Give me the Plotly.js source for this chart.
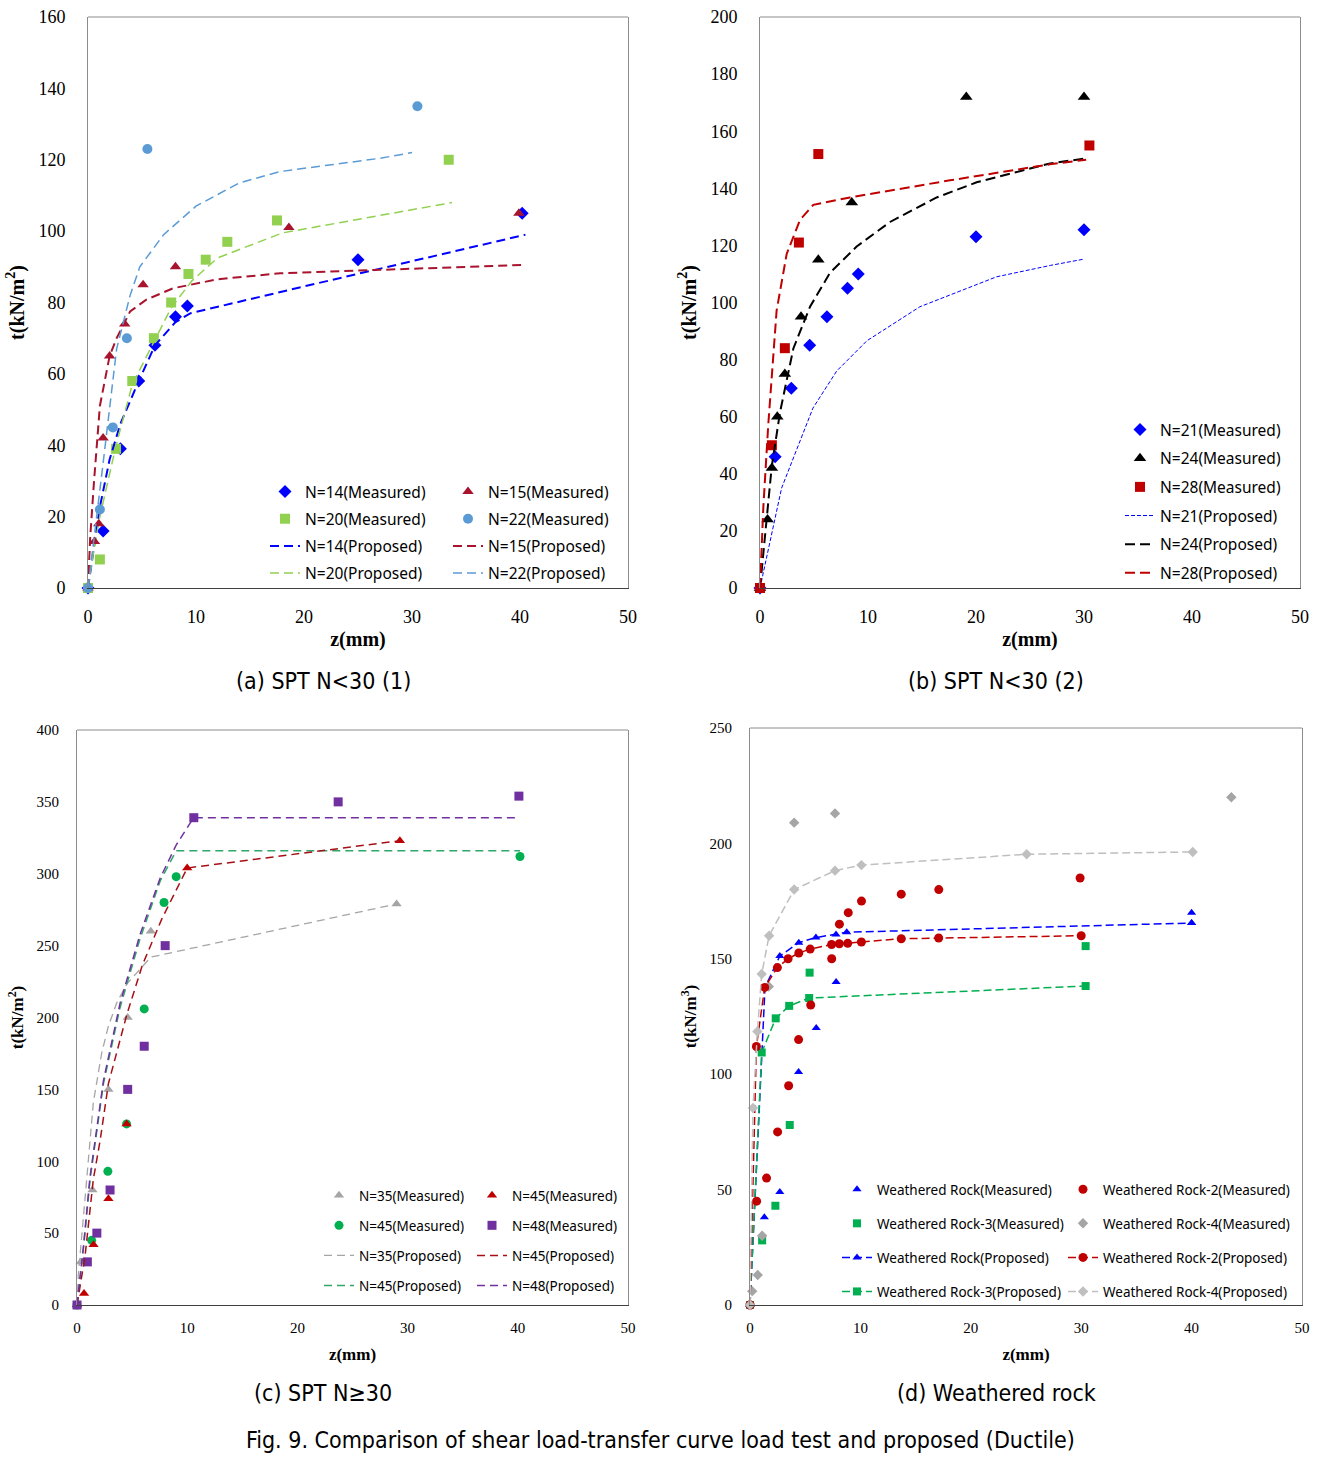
<!DOCTYPE html>
<html>
<head>
<meta charset="utf-8">
<script src="https://cdn.plot.ly/plotly-3.0.1.min.js"></script>
<style>html,body{margin:0;padding:0;background:#fff;}#chart{width:1328px;height:1458px;}</style>
</head>
<body>
<div id="chart"></div>
<script>
// ---------- Panel (a): SPT N<30 (1) ----------
const a14_mx = [0, 1.4, 3.0, 4.7, 6.2, 8.1, 9.2, 25.0, 40.2];
const a14_my = [0, 16, 39, 58, 68, 76, 79, 92, 105];
const a15_mx = [0, 0.6, 1.0, 1.4, 2.0, 3.4, 5.1, 8.1, 18.6, 39.9];
const a15_my = [0, 13, 18, 42, 65, 74, 85, 90, 101, 105];
const a20_mx = [0, 1.1, 2.6, 4.1, 6.1, 7.7, 9.3, 10.9, 12.9, 17.5, 33.4];
const a20_my = [0, 8, 39, 58, 70, 80, 88, 92, 97, 103, 120];
const a22_mx = [0, 1.1, 2.3, 3.6, 5.5, 30.5];
const a22_my = [0, 22, 45, 70, 123, 135];
const a14_px = [0, 0.5, 1.1, 2.0, 3.0, 4.7, 6.2, 8.1, 9.5, 20, 40.5];
const a14_py = [0, 10, 22.7, 36, 46, 58, 68, 74.5, 77, 84.5, 99];
const a15_px = [0, 0.2, 0.56, 1.1, 2.0, 2.65, 3.9, 5.4, 7.9, 12, 17.8, 40.1];
const a15_py = [0, 14, 30, 51, 65, 70, 77.5, 80.8, 84, 86.5, 88.2, 90.5];
const a20_px = [0, 0.5, 1.1, 2.6, 4.1, 6.1, 7.7, 9.6, 12, 18, 33.7];
const a20_py = [0, 10, 20, 40, 57, 69, 78.5, 86, 92.5, 99.5, 108];
const a22_px = [0, 0.5, 1.4, 2.65, 3.9, 4.8, 7.0, 10.0, 14.0, 17.8, 27.0, 30.0];
const a22_py = [0, 12, 35, 67, 82, 90, 99, 107, 113.5, 116.7, 120.4, 122];

// ---------- Panel (b): SPT N<30 (2) ----------
const b21_mx = [0, 1.4, 2.9, 4.6, 6.2, 8.1, 9.1, 20.0, 30.0];
const b21_my = [0, 46, 70, 85, 95, 105, 110, 123, 125.5];
const b24_mx = [0, 0.7, 1.1, 1.6, 2.3, 3.8, 5.4, 8.5, 19.1, 30.0];
const b24_my = [0, 24, 42, 60, 75, 95, 115, 135, 172, 172];
const b28_mx = [0, 1.1, 2.3, 3.6, 5.4, 30.5];
const b28_my = [0, 50, 84, 121, 152, 155];
const b21_px = [0, 2.0, 4.9, 7.1, 9.9, 14.8, 21.9, 26.9, 30];
const b21_py = [0, 35, 63, 76, 86.6, 98.5, 109, 113, 115.2];
const b24_px = [0, 0.46, 1.08, 1.85, 3.09, 4.63, 6.48, 8.95, 12.04, 16.36, 20.06, 26.85, 30.2];
const b24_py = [0, 17.8, 42.3, 61.5, 83.9, 98.5, 110.4, 119.6, 128.2, 136.8, 142.1, 148.7, 150.5];
const b28_px = [0, 0.31, 0.77, 1.54, 2.47, 3.7, 4.94, 8.33, 17.6, 26.85, 30.2];
const b28_py = [0, 28.4, 57.5, 97.2, 117, 128.9, 134.2, 136.8, 142.8, 148.4, 150];

// ---------- Panel (c): SPT N>=30 ----------
const c35_mx = [0, 0.33, 1.4, 2.85, 4.6, 6.7, 29.0];
const c35_my = [0, 30, 80, 150, 200, 260, 279];
const c45r_mx = [0, 0.64, 1.5, 2.85, 4.5, 10.0, 29.3];
const c45r_my = [0, 8, 42, 74, 126, 304, 323];
const c45g_mx = [0, 1.33, 2.8, 4.5, 6.1, 7.9, 9.0, 40.2];
const c45g_my = [0, 45, 93, 126, 206, 280, 298, 312];
const c48_mx = [0, 0.94, 1.8, 3.0, 4.6, 6.1, 8.0, 10.6, 23.7, 40.1];
const c48_my = [0, 30, 50, 80, 150, 180, 250, 339, 350, 354];
const c35_px = [0, 0.12, 0.88, 1.48, 2.24, 2.85, 3.6, 4.52, 6.7, 29.0];
const c35_py = [0, 20.8, 87.4, 140.7, 175.3, 194, 210, 223.3, 242, 279];
const c45r_px = [0, 0.73, 1.48, 2.09, 2.85, 4.52, 5.94, 7.7, 10.0, 29.3];
const c45r_py = [0, 34, 87.4, 114, 154, 202, 236.6, 268.6, 304, 323];
const c45g_px = [0, 0.6, 1.18, 2.4, 3.91, 5.73, 7.55, 9.0, 40.2];
const c45g_py = [0, 40, 87, 154, 207, 255, 295, 316, 316];
const c48_px = [0, 0.6, 1.18, 2.4, 3.91, 5.73, 7.55, 9.0, 10.58, 40.1];
const c48_py = [0, 42, 89, 156, 210, 258, 297, 320, 339, 339];

// ---------- Panel (d): Weathered rock ----------
const dWR_mx = [0, 1.3, 2.7, 4.4, 6.0, 7.8, 40.0, 40.0];
const dWR_my = [0, 38, 49, 101, 120, 140, 170, 165.5];
const dWR2_mx = [0, 0.6, 1.5, 2.5, 3.5, 4.4, 5.5, 7.4, 8.1, 8.9, 10.1, 13.7, 17.1, 29.9];
const dWR2_my = [0, 45, 55, 75, 95, 115, 130, 150, 165, 170, 175, 178, 180, 185];
const dWR3_mx = [0, 1.1, 2.3, 3.6, 5.4, 30.4];
const dWR3_my = [0, 28, 43, 78, 144, 155.5];
const dWR4_mx = [0, 0.2, 0.7, 1.1, 1.7, 4.0, 7.7, 43.6];
const dWR4_my = [0, 6, 13, 30, 138, 209, 213, 220];
const dWR_px = [0, 1.36, 2.7, 4.42, 5.97, 7.79, 8.76, 40.0];
const dWR_py = [0, 137.6, 151.2, 157, 159.2, 160.5, 161.5, 165.5];
const dWR2_px = [0, 0.58, 1.33, 2.48, 3.45, 4.42, 5.45, 7.39, 8.09, 8.85, 10.09, 13.7, 17.09, 30.0];
const dWR2_py = [0, 112, 137.6, 146.2, 150, 152.5, 154.2, 156.2, 156.5, 156.7, 157.3, 158.7, 159, 160];
const dWR3_px = [0, 1.06, 2.33, 3.55, 5.36, 30.4];
const dWR3_py = [0, 109.4, 124.2, 129.6, 133, 138.2];
const dWR4_px = [0, 0.27, 0.67, 1.06, 1.73, 4.0, 7.7, 10.09, 25.06, 40.1];
const dWR4_py = [0, 85.4, 118.5, 143.4, 160, 180, 188.2, 190.6, 195.3, 196.3];

// ---------- helpers ----------
const W = 1328, H = 1458;
const px = v => v / W;
const py = v => 1 - v / H;

function meas(name, x, y, xa, ya, sym, color, size, legend, grp) {
  return {type:'scatter', mode:'markers', name:name, x:x, y:y, xaxis:xa, yaxis:ya,
    marker:{symbol:sym, color:color, size:size}, cliponaxis:false,
    legend:legend, legendgroup:grp};
}
function prop(name, x, y, xa, ya, color, width, dash, legend, grp, msym, msize) {
  const t = {type:'scatter', mode: msym ? 'lines+markers' : 'lines', name:name, x:x, y:y,
    xaxis:xa, yaxis:ya, line:{color:color, width:width, dash:dash}, cliponaxis:false,
    legend:legend, legendgroup:grp};
  if (msym) t.marker = {symbol:msym, color:color, size:msize};
  return t;
}

const C = {
  blue:'#0000FF', crimson:'#A8142E', lgreen:'#92D050', lblue:'#5B9BD5',
  black:'#000000', red:'#C00000', gray:'#A5A5A5', green:'#00B050', purple:'#7030A0',
  dred:'#A50F15', mgreen:'#2FA86A', lgray:'#BFBFBF'
};

const traces = [
  // (a)
  meas('N=14(Measured)', a14_mx, a14_my, 'x', 'y', 'diamond', C.blue, 10, 'legend', 'a1'),
  meas('N=20(Measured)', a20_mx, a20_my, 'x', 'y', 'square', C.lgreen, 10, 'legend', 'a2'),
  prop('N=14(Proposed)', a14_px, a14_py, 'x', 'y', C.blue, 2, '9px,5px', 'legend', 'a3'),
  prop('N=20(Proposed)', a20_px, a20_py, 'x', 'y', C.lgreen, 1.5, '9px,5px', 'legend', 'a4'),
  meas('N=15(Measured)', a15_mx, a15_my, 'x', 'y', 'triangle-up', C.crimson, 10, 'legend2', 'a5'),
  meas('N=22(Measured)', a22_mx, a22_my, 'x', 'y', 'circle', C.lblue, 10, 'legend2', 'a6'),
  prop('N=15(Proposed)', a15_px, a15_py, 'x', 'y', C.crimson, 2, '9px,5px', 'legend2', 'a7'),
  prop('N=22(Proposed)', a22_px, a22_py, 'x', 'y', C.lblue, 1.5, '9px,5px', 'legend2', 'a8'),
  // (b)
  meas('N=21(Measured)', b21_mx, b21_my, 'x2', 'y2', 'diamond', C.blue, 10, 'legend3', 'b1'),
  meas('N=24(Measured)', b24_mx, b24_my, 'x2', 'y2', 'triangle-up', C.black, 11, 'legend3', 'b2'),
  meas('N=28(Measured)', b28_mx, b28_my, 'x2', 'y2', 'square', C.red, 10, 'legend3', 'b3'),
  prop('N=21(Proposed)', b21_px, b21_py, 'x2', 'y2', C.blue, 1, '4px,2px', 'legend3', 'b4'),
  prop('N=24(Proposed)', b24_px, b24_py, 'x2', 'y2', C.black, 2, '10px,5px', 'legend3', 'b5'),
  prop('N=28(Proposed)', b28_px, b28_py, 'x2', 'y2', C.red, 2, '10px,5px', 'legend3', 'b6'),
  // (c)
  meas('N=35(Measured)', c35_mx, c35_my, 'x3', 'y3', 'triangle-up', C.gray, 9, 'legend4', 'c1'),
  meas('N=45(Measured)', c45g_mx, c45g_my, 'x3', 'y3', 'circle', C.green, 9, 'legend4', 'c2'),
  prop('N=35(Proposed)', c35_px, c35_py, 'x3', 'y3', C.gray, 1.3, '8px,5px', 'legend4', 'c3'),
  prop('N=45(Proposed)', c45g_px, c45g_py, 'x3', 'y3', C.mgreen, 1.5, '8px,5px', 'legend4', 'c4'),
  meas('N=45(Measured)', c45r_mx, c45r_my, 'x3', 'y3', 'triangle-up', C.red, 9, 'legend5', 'c5'),
  meas('N=48(Measured)', c48_mx, c48_my, 'x3', 'y3', 'square', C.purple, 9, 'legend5', 'c6'),
  prop('N=45(Proposed)', c45r_px, c45r_py, 'x3', 'y3', C.dred, 1.5, '8px,5px', 'legend5', 'c7'),
  prop('N=48(Proposed)', c48_px, c48_py, 'x3', 'y3', C.purple, 1.5, '8px,5px', 'legend5', 'c8'),
  // (d)
  meas('Weathered Rock(Measured)', dWR_mx, dWR_my, 'x4', 'y4', 'triangle-up', C.blue, 8, 'legend6', 'd1'),
  meas('Weathered Rock-3(Measured)', dWR3_mx, dWR3_my, 'x4', 'y4', 'square', C.green, 8, 'legend6', 'd2'),
  prop('Weathered Rock(Proposed)', dWR_px, dWR_py, 'x4', 'y4', C.blue, 1.5, '8px,4px', 'legend6', 'd3', 'triangle-up', 8),
  prop('Weathered Rock-3(Proposed)', dWR3_px, dWR3_py, 'x4', 'y4', C.green, 1.5, '8px,4px', 'legend6', 'd4', 'square', 8),
  meas('Weathered Rock-2(Measured)', dWR2_mx, dWR2_my, 'x4', 'y4', 'circle', C.red, 9, 'legend7', 'd5'),
  meas('Weathered Rock-4(Measured)', dWR4_mx, dWR4_my, 'x4', 'y4', 'diamond', C.gray, 8, 'legend7', 'd6'),
  prop('Weathered Rock-2(Proposed)', dWR2_px, dWR2_py, 'x4', 'y4', C.red, 1.5, '8px,4px', 'legend7', 'd7', 'circle', 9),
  prop('Weathered Rock-4(Proposed)', dWR4_px, dWR4_py, 'x4', 'y4', C.lgray, 1.5, '8px,4px', 'legend7', 'd8', 'diamond', 8)
];

const serif = 'Liberation Serif, Times New Roman, serif';
const sans = 'Noto Sans, Open Sans, sans-serif';
const narrow = 'Liberation Sans Narrow, DejaVu Sans Condensed, Noto Sans, sans-serif';

function xax(domain, anchor, tsize, stand, title, tstand) {
  return {domain:domain, anchor:anchor, range:[0,50], dtick:10, tick0:0, showgrid:false, zeroline:false,
    showline:true, linecolor:'#404040', linewidth:1, mirror:false, ticks:'',
    ticklabelstandoff:stand, tickfont:{family:serif, size:tsize, color:'#000'},
    title:{text:title, font:{family:serif, size:tsize+2, color:'#000', weight:'bold'}, standoff:tstand}};
}
function yax(domain, anchor, max, dtick, tsize, stand, title, tstand) {
  return {domain:domain, anchor:anchor, range:[0,max], dtick:dtick, tick0:0, showgrid:false, zeroline:false,
    showline:true, linecolor:'#8c8c8c', linewidth:1, mirror:true, ticks:'',
    ticklabelstandoff:stand, tickfont:{family:serif, size:tsize, color:'#000'},
    title:{text:title, font:{family:serif, size:tsize+2, color:'#000', weight:'bold'}, standoff:tstand}};
}

function leg(x, ytop, fsize, gap) {
  return {x:px(x), y:py(ytop), xanchor:'left', yanchor:'top', bgcolor:'rgba(0,0,0,0)',
    font:{family:sans, size:fsize, color:'#000'}, tracegroupgap:gap, traceorder:'grouped'};
}

const dA = {x:[px(88), px(628)], y:[py(588), py(17)]};
const dB = {x:[px(760), px(1300)], y:[py(588), py(17)]};
const dC = {x:[px(77), px(628)], y:[py(1305), py(730)]};
const dD = {x:[px(750), px(1302)], y:[py(1305), py(728)]};

function topLine(xref, yref) {
  return {type:'line', xref:xref+' domain', yref:yref+' domain', x0:0, x1:1, y0:1, y1:1,
    line:{color:'#8c8c8c', width:1}};
}

function cap(text, x, y, size) {
  return {text:text, x:px(x), y:py(y), xref:'paper', yref:'paper', showarrow:false,
    xanchor:'center', yanchor:'middle', font:{family:narrow, size:size, color:'#000'}};
}

const layout = {
  width:W, height:H, margin:{l:0, r:0, t:0, b:0}, paper_bgcolor:'#fff', plot_bgcolor:'#fff',
  showlegend:true,
  xaxis: xax(dA.x, 'y', 18, 12, 'z(mm)', 6),
  yaxis: yax(dA.y, 'x', 160, 20, 18, 18, 't(kN/m<sup>2</sup>)', 8),
  xaxis2: xax(dB.x, 'y2', 18, 12, 'z(mm)', 6),
  yaxis2: yax(dB.y, 'x2', 200, 20, 18, 18, 't(kN/m<sup>2</sup>)', 8),
  xaxis3: xax(dC.x, 'y3', 15, 9, 'z(mm)', 13),
  yaxis3: yax(dC.y, 'x3', 400, 50, 15, 14, 't(kN/m<sup>2</sup>)', 8),
  xaxis4: xax(dD.x, 'y4', 15, 9, 'z(mm)', 13),
  yaxis4: yax(dD.y, 'x4', 250, 50, 15, 14, 't(kN/m<sup>3</sup>)', 8),
  legend: leg(265, 475, 15.5, 4),
  legend2: leg(448, 475, 15.5, 4),
  legend3: leg(1120, 413, 15.5, 5.5),
  legend4: leg(319, 1180, 13.5, 9.5),
  legend5: leg(472, 1180, 13.5, 9.5),
  legend6: leg(837, 1174, 13.5, 13.5),
  legend7: leg(1063, 1174, 13.5, 13.5),
  shapes: [topLine('x','y'), topLine('x2','y2'), topLine('x3','y3'), topLine('x4','y4')],
  annotations: [
    cap('(a) SPT N&lt;30 (1)', 323, 681, 23),
    cap('(b) SPT N&lt;30 (2)', 996, 681, 23),
    cap('(c) SPT N≥30', 323, 1393, 23),
    cap('(d) Weathered rock', 996, 1393, 23),
    cap('Fig. 9. Comparison of shear load-transfer curve load test and proposed (Ductile)', 660, 1440, 23)
  ]
};

Plotly.newPlot('chart', traces, layout, {staticPlot:true, displayModeBar:false});
</script>
</body>
</html>
